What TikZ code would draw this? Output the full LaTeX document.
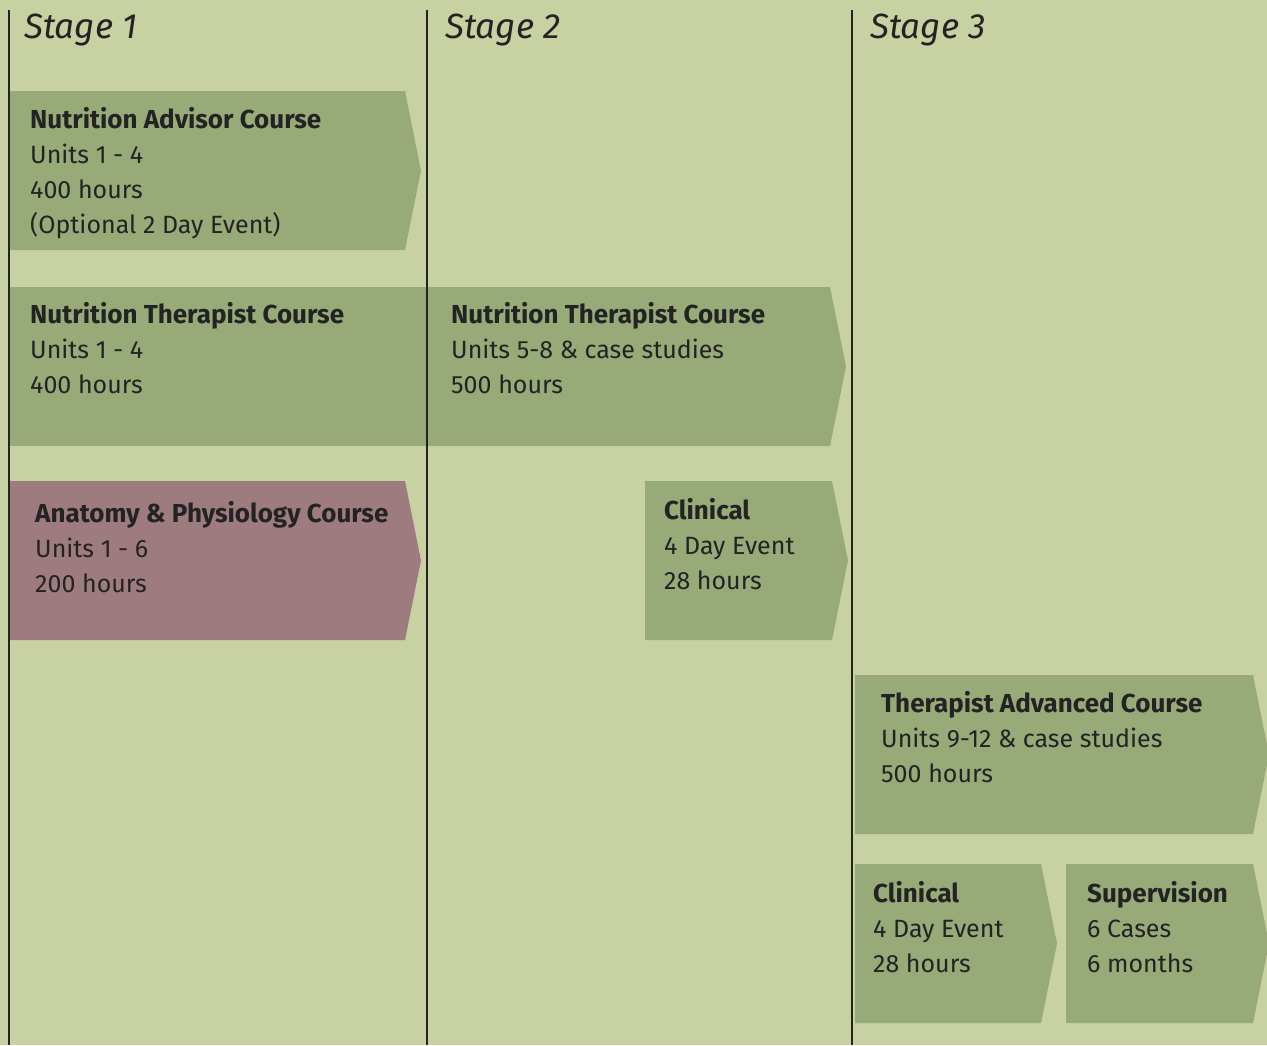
\documentclass[tikz,border=0pt]{standalone}
\usepackage{fontspec}
\setmainfont{Fira Sans}
\usetikzlibrary{positioning}
\definecolor{sage}{HTML}{C7D1A2}
\definecolor{leaf}{HTML}{97AA78}
\definecolor{mauve}{HTML}{9E7B7F}
\definecolor{ink}{HTML}{232323}
\newcommand{\coursetitle}[1]{{\fontsize{26}{35}\selectfont\bfseries #1}}
\tikzset{
    course/.style={fill=leaf},
    anatomyfill/.style={fill=mauve},
    coursetext/.style={anchor=base west, inner sep=0pt, align=left, text=ink,
        font=\fontsize{25}{35}\selectfont},
    stagelabel/.style={anchor=base west, inner sep=0pt, text=ink,
        font=\fontsize{35}{40}\selectfont\itshape},
    divider/.style={line width=2pt, draw=ink}
}
\begin{document}
\begin{tikzpicture}[x=1pt,y=-1pt]
    \fill[sage] (0,0) rectangle (1267,1045);
    \useasboundingbox (0,0) rectangle (1267,1045);
    % stage 1
    \fill[course] (9,91) -- (405,91) -- (421,170.5) -- (405,250) -- (9,250) -- cycle;
    \fill[course] (9,287) -- (427,287) -- (427,446) -- (9,446) -- cycle;
    \fill[anatomyfill] (9,481) -- (405,481) -- (421,560.5) -- (405,640) -- (9,640) -- cycle;
    % stage 2
    \fill[course] (427,287) -- (830,287) -- (846,366.5) -- (830,446) -- (427,446) -- cycle;
    \fill[course] (645,481) -- (832,481) -- (848,560.5) -- (832,640) -- (645,640) -- cycle;
    % stage 3
    \fill[course] (855,675) -- (1253,675) -- (1269,754.5) -- (1253,834) -- (855,834) -- cycle;
    \fill[course] (855,864) -- (1041,864) -- (1057,943.5) -- (1041,1023) -- (855,1023) -- cycle;
    \fill[course] (1066,864) -- (1253,864) -- (1269,943.5) -- (1253,1023) -- (1066,1023) -- cycle;
    % dividers
    \draw[divider] (9,10) -- (9,1045);
    \draw[divider] (427,10) -- (427,1045);
    \draw[divider] (852,10) -- (852,1045);
    % labels (base anchor sits on the last line)
    \node[stagelabel] (stage1) at (24,38) {Stage 1};
    \node[stagelabel] (stage2) at (445,38) {Stage 2};
    \node[stagelabel] (stage3) at (870,38) {Stage 3};
    \node[coursetext] (advisor) at (30,233)
        {\coursetitle{Nutrition Advisor Course}\\Units 1 - 4\\400 hours\\(Optional 2 Day Event)};
    \node[coursetext] (therapistA) at (30,393)
        {\coursetitle{Nutrition Therapist Course}\\Units 1 - 4\\400 hours};
    \node[coursetext] (anatomy) at (35,592)
        {\coursetitle{Anatomy \& Physiology Course}\\Units 1 - 6\\200 hours};
    \node[coursetext] (therapistB) at (451,393)
        {\coursetitle{Nutrition Therapist Course}\\Units 5-8 \& case studies\\500 hours};
    \node[coursetext] (clinicalA) at (664,589)
        {\coursetitle{Clinical}\\4 Day Event\\28 hours};
    \node[coursetext] (advanced) at (881,782)
        {\coursetitle{Therapist Advanced Course}\\Units 9-12 \& case studies\\500 hours};
    \node[coursetext] (clinicalB) at (873,972)
        {\coursetitle{Clinical}\\4 Day Event\\28 hours};
    \node[coursetext] (supervision) at (1087,972)
        {\coursetitle{Supervision}\\6 Cases\\6 months};
\end{tikzpicture}
\end{document}
